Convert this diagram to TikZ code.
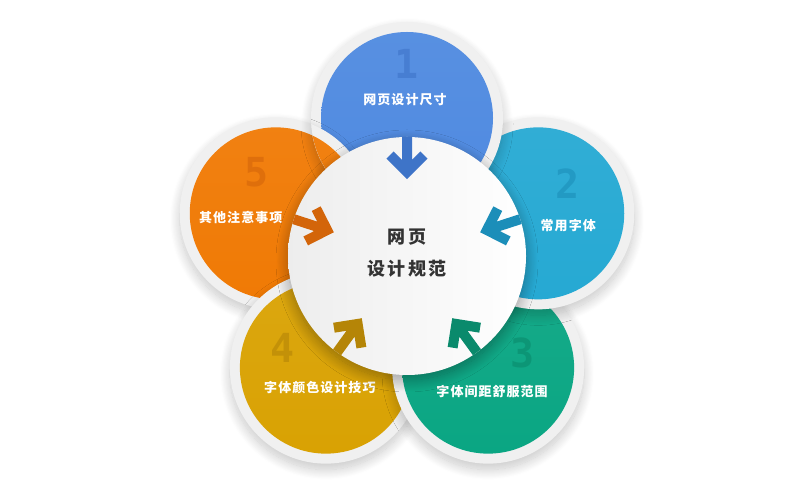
\documentclass[tikz,border=0pt]{standalone}
\usepackage{fontspec}
\newfontfamily\cjk{Noto Sans CJK SC}
\newfontfamily\numfont{DejaVu Sans Mono}
\usetikzlibrary{calc}
\usetikzlibrary{shadows.blur}
\definecolor{cBlue}{HTML}{4F8AE0}
\definecolor{cBlueD}{HTML}{3E74C8}
\definecolor{cCyan}{HTML}{26A9D3}
\definecolor{cCyanD}{HTML}{1C8EB9}
\definecolor{cGreen}{HTML}{0AA683}
\definecolor{cGreenD}{HTML}{0A8A6C}
\definecolor{cGold}{HTML}{D9A203}
\definecolor{cGoldD}{HTML}{B58507}
\definecolor{cOrange}{HTML}{F07A05}
\definecolor{cOrangeD}{HTML}{D3650A}
\definecolor{cRing}{HTML}{F0F0F0}
\definecolor{cText}{HTML}{333333}
\tikzset{
  ring/.style={circle, minimum size=192pt, inner sep=0pt, fill=cRing,
    blur shadow={shadow xshift=0pt, shadow yshift=-6pt, shadow blur radius=10pt, shadow opacity=22, shadow blur steps=20}},
  disc/.style={circle, minimum size=172pt, inner sep=0pt},
  hub/.style={circle, minimum size=238pt, inner sep=0pt, left color=gray!14, right color=white,
    blur shadow={shadow xshift=0pt, shadow yshift=-5pt, shadow blur radius=12pt, shadow opacity=35, shadow blur steps=20}},
  arr/.style={line width=10pt, miter limit=10},
  num/.style={font=\numfont\bfseries\fontsize{40}{40}\selectfont, text opacity=0.6},
  lbl/.style={text=white, font=\cjk\bfseries\fontsize{13}{15}\selectfont\addfontfeature{LetterSpace=8}}
}
\begin{document}
\begin{tikzpicture}[x=1pt,y=1pt]
		\useasboundingbox (0,0) rectangle (800,500);
		\coordinate (o) at (407,244);
		% petals, each one over its clockwise neighbour
		\foreach \n/\a/\col in {5/162/cOrange, 4/234/cGold, 3/306/cGreen, 2/18/cCyan, 1/90/cBlue} {
			\node[ring] (r\n) at ($(o)+(\a:138)$) {};
			\node[disc, top color=\col!95!white, bottom color=\col] (c\n) at (r\n) {};
		}
		\begin{scope}
			\clip (r1.center) circle[radius=96];
			\node[ring] (r5b) at (r5) {};
			\node[disc, top color=cOrange!95!white, bottom color=cOrange] (c5b) at (r5) {};
		\end{scope}
		% numbers and labels
		\node[num, text=cBlueD] (n1) at ($(c1)+(0,54)$) {1};
		\node[num, text=cCyanD] (n2) at ($(c2)+(29,30)$) {2};
		\node[num, text=cGreenD] (n3) at ($(c3)+(34,15)$) {3};
		\node[num, text=cGoldD] (n4) at ($(c4)+(-43,20)$) {4};
		\node[num, text=cOrangeD] (n5) at ($(c5)+(-19,41)$) {5};
		\node[lbl] (l1) at ($(c1)+(-2,18)$) {网页设计尺寸};
		\node[lbl] (l2) at ($(c2)+(30,-12)$) {常用字体};
		\node[lbl] (l3) at ($(c3)+(4,-24)$) {字体间距舒服范围};
		\node[lbl] (l4) at ($(c4)+(-6,-20)$) {字体颜色设计技巧};
		\node[lbl] (l5) at ($(c5)+(-35,-4)$) {其他注意事项};
		% centre
		\node[hub] (ctr) at (o) {};
		\node[align=center, text=cText, font=\cjk\bfseries\fontsize{18}{32}\selectfont\addfontfeature{LetterSpace=12}] (title) at ($(o)+(0,3)$) {网页\\设计规范};
		% arrows into the centre
		\foreach \n/\col in {1/cBlueD, 2/cCyanD, 3/cGreenD, 4/cGoldD, 5/cOrangeD} {
			\coordinate (t\n) at ($(o)!119pt!(c\n)$);
			\coordinate (h\n) at ($(o)!84pt!(c\n)$);
			\draw[arr, draw=\col] (t\n) -- (h\n) ($(h\n)!24pt!45:(t\n)$) -- (h\n) -- ($(h\n)!24pt!-45:(t\n)$);
		}
\end{tikzpicture}
\end{document}
